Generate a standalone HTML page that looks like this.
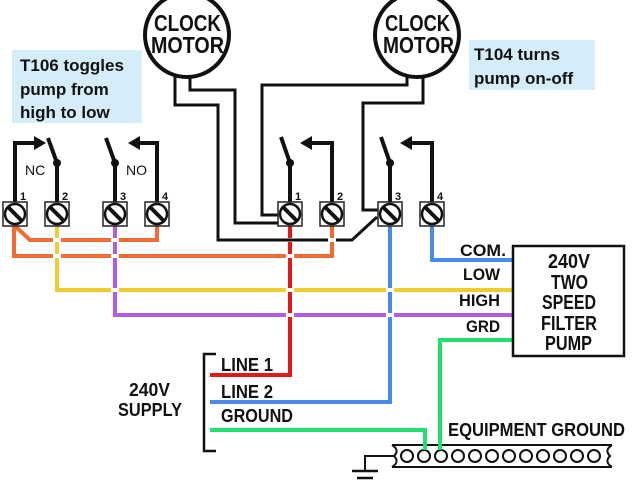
<!DOCTYPE html>
<html><head><meta charset="utf-8"><style>
html,body{margin:0;padding:0;background:#fff;}
svg{display:block}
.n{font-family:"Liberation Sans",sans-serif;font-weight:bold;fill:#111}
.s{font-family:"Liberation Sans",sans-serif;fill:#111}
</style></head><body>
<svg width="640" height="480" viewBox="0 0 640 480" xmlns="http://www.w3.org/2000/svg">
<defs>
<g id="term">
<rect x="-12" y="-12" width="24" height="24" fill="#fff" stroke="#222" stroke-width="1.5"/>
<circle cx="0" cy="0" r="10" fill="#fff" stroke="#111" stroke-width="2.5"/>
<line x1="-7" y1="-7" x2="7" y2="7" stroke="#111" stroke-width="4"/>
</g>
</defs>
<rect x="12" y="50" width="130" height="73" fill="#d4edf8"/>
<text class="s" font-weight="bold" font-size="17"><tspan x="20" y="71">T106 toggles</tspan><tspan x="20" y="95">pump from</tspan><tspan x="20" y="118">high to low</tspan></text>
<rect x="469" y="40" width="126" height="50" fill="#d4edf8"/>
<text class="s" font-weight="bold" font-size="17"><tspan x="474" y="60">T104 turns</tspan><tspan x="474" y="84">pump on-off</tspan></text>

<g fill="none" stroke="#111" stroke-width="3">
<polyline points="175,70 175,105 218,105 218,240 352,240 377,217"/>
<polyline points="190,70 190,90 235,90 235,223 280,223"/>
<polyline points="407,70 407,85 262,85 262,215 280,215"/>
<polyline points="423,70 423,103 363,103 363,210 380,210"/>
</g>
<circle cx="187" cy="35" r="42" fill="#fff" stroke="#111" stroke-width="4"/>
<circle cx="417" cy="35" r="42" fill="#fff" stroke="#111" stroke-width="4"/>
<g class="n" font-size="23" lengthAdjust="spacingAndGlyphs">
<text x="154" y="31" textLength="67" lengthAdjust="spacingAndGlyphs">CLOCK</text>
<text x="151" y="53" textLength="73" lengthAdjust="spacingAndGlyphs">MOTOR</text>
<text x="385" y="31" textLength="65" lengthAdjust="spacingAndGlyphs">CLOCK</text>
<text x="383" y="53" textLength="71" lengthAdjust="spacingAndGlyphs">MOTOR</text>
</g>

<g fill="none" stroke-width="4">
<polyline stroke="#f26b30" points="15,226 30,240 157,240 157,226"/>
<polyline stroke="#f26b30" points="14,226 14,256 332,256 332,226"/>
<polyline stroke="#f0cc30" points="57,226 57,290 515,290"/>
<polyline stroke="#b05ce8" points="115,226 115,315 515,315"/>
<polyline stroke="#e01a1a" points="290,226 290,375 210,375"/>
<polyline stroke="#4a8ae8" points="390,226 390,402 210,402"/>
<polyline stroke="#4a8ae8" points="432,226 432,260 515,260"/>
<polyline stroke="#22e070" points="513,340 440,340 440,448"/>
<polyline stroke="#22e070" points="210,430 425,430 425,450"/>
</g>
<g stroke="#fff" stroke-width="4">
<line x1="53" y1="240" x2="61" y2="240"/><line x1="111" y1="240" x2="119" y2="240"/>
<line x1="53" y1="256" x2="61" y2="256"/><line x1="111" y1="256" x2="119" y2="256"/><line x1="286" y1="256" x2="294" y2="256"/>
<line x1="111" y1="290" x2="119" y2="290"/><line x1="286" y1="290" x2="294" y2="290"/><line x1="386" y1="290" x2="394" y2="290"/>
<line x1="286" y1="315" x2="294" y2="315"/><line x1="386" y1="315" x2="394" y2="315"/>
<line x1="286" y1="240" x2="294" y2="240"/><line x1="328" y1="240" x2="336" y2="240"/>
</g>
<polyline fill="none" stroke="#111" stroke-width="3" points="286,240 294,240"/>

<g fill="none" stroke="#111" stroke-width="4">
<polyline points="15,205 15,143 38,143"/>
<polyline points="157,205 157,143 136,143"/>
<polyline points="332,205 332,143 308,143"/>
<polyline points="432,205 432,143 408,143"/>
<line x1="57" y1="205" x2="57" y2="163"/><line x1="57" y1="163" x2="48" y2="138"/>
<line x1="115" y1="205" x2="115" y2="163"/><line x1="115" y1="163" x2="106" y2="138"/>
<line x1="290" y1="205" x2="290" y2="163"/><line x1="290" y1="163" x2="281" y2="137"/>
<line x1="390" y1="205" x2="390" y2="163"/><line x1="390" y1="163" x2="381" y2="137"/>
</g>
<g fill="#111">
<polygon points="46,143 34,136 34,150"/>
<polygon points="128,143 140,136 140,150"/>
<polygon points="300,143 312,136 312,150"/>
<polygon points="400,143 412,136 412,150"/>
<circle cx="57" cy="163" r="4"/><circle cx="115" cy="163" r="4"/><circle cx="290" cy="163" r="4"/><circle cx="390" cy="163" r="4"/>
</g>
<text class="s" font-size="14" x="25" y="175">NC</text>
<text class="s" font-size="14" x="126" y="175">NO</text>

<use href="#term" x="15" y="214"/><use href="#term" x="57" y="214"/><use href="#term" x="115" y="214"/><use href="#term" x="157" y="214"/>
<use href="#term" x="290" y="214"/><use href="#term" x="332" y="214"/><use href="#term" x="390" y="214"/><use href="#term" x="432" y="214"/>
<g class="s" font-size="11" font-weight="bold">
<text x="20" y="200">1</text><text x="62" y="200">2</text><text x="120" y="200">3</text><text x="162" y="200">4</text>
<text x="295" y="200">1</text><text x="337" y="200">2</text><text x="395" y="200">3</text><text x="437" y="200">4</text>
</g>

<rect x="513" y="246" width="111" height="110" fill="#fff" stroke="#111" stroke-width="2.5"/>
<g class="n" font-size="20">
<text x="548" y="268" textLength="42" lengthAdjust="spacingAndGlyphs">240V</text>
<text x="551" y="289" textLength="37" lengthAdjust="spacingAndGlyphs">TWO</text>
<text x="542" y="309" textLength="54" lengthAdjust="spacingAndGlyphs">SPEED</text>
<text x="541" y="330" textLength="56" lengthAdjust="spacingAndGlyphs">FILTER</text>
<text x="545" y="350" textLength="47" lengthAdjust="spacingAndGlyphs">PUMP</text>
</g>
<g class="n" font-size="17">
<text x="460" y="256" textLength="46" lengthAdjust="spacingAndGlyphs">COM.</text>
<text x="463" y="280" textLength="37" lengthAdjust="spacingAndGlyphs">LOW</text>
<text x="459" y="306" textLength="41" lengthAdjust="spacingAndGlyphs">HIGH</text>
<text x="466" y="332" textLength="34" lengthAdjust="spacingAndGlyphs">GRD</text>
</g>

<polyline fill="none" stroke="#111" stroke-width="2.5" points="216,354 204,354 204,451 216,451"/>
<g class="n" font-size="18">
<text x="221" y="371" textLength="52" lengthAdjust="spacingAndGlyphs">LINE 1</text>
<text x="221" y="398" textLength="52" lengthAdjust="spacingAndGlyphs">LINE 2</text>
<text x="221" y="422" textLength="72" lengthAdjust="spacingAndGlyphs">GROUND</text>
<text x="129" y="396" textLength="41" lengthAdjust="spacingAndGlyphs">240V</text>
<text x="118" y="416" textLength="64" lengthAdjust="spacingAndGlyphs">SUPPLY</text>
<text x="448" y="436" textLength="177" lengthAdjust="spacingAndGlyphs">EQUIPMENT GROUND</text>
</g>

<path d="M392,445 L612,445 M392,467 L612,467" stroke="#111" stroke-width="2" fill="none"/>
<path d="M392,445 Q400,450 394,456 Q400,462 392,467" stroke="#111" stroke-width="2" fill="none"/>
<path d="M612,445 Q604,450 610,456 Q604,462 612,467" stroke="#111" stroke-width="2" fill="none"/>
<g fill="#fff" stroke="#111" stroke-width="2">
<circle cx="407" cy="456" r="6"/><circle cx="424" cy="456" r="6"/><circle cx="441" cy="456" r="6"/><circle cx="458" cy="456" r="6"/><circle cx="475" cy="456" r="6"/><circle cx="492" cy="456" r="6"/><circle cx="509" cy="456" r="6"/><circle cx="526" cy="456" r="6"/><circle cx="543" cy="456" r="6"/><circle cx="560" cy="456" r="6"/><circle cx="577" cy="456" r="6"/><circle cx="594" cy="456" r="6"/>
</g>
<polyline fill="none" stroke="#22e070" stroke-width="4" points="425,440 425,450"/>
<polyline fill="none" stroke="#22e070" stroke-width="4" points="440,440 440,450"/>
<polyline fill="none" stroke="#111" stroke-width="2" points="394,456 365,456 365,471"/>
<line x1="352" y1="471" x2="378" y2="471" stroke="#111" stroke-width="2.5"/>
<line x1="357" y1="478" x2="373" y2="478" stroke="#111" stroke-width="2.5"/>
</svg>
</body></html>
